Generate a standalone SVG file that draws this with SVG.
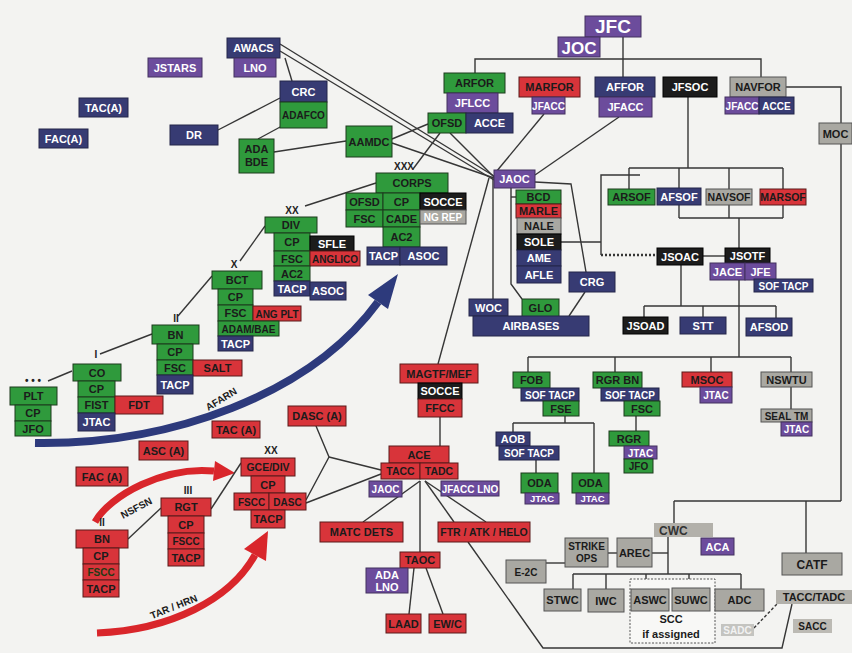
<svg xmlns="http://www.w3.org/2000/svg" width="852" height="653" viewBox="0 0 852 653">
<defs>
<style>
text{font-family:"Liberation Sans",Arial,sans-serif;font-weight:bold;font-size:11px;text-anchor:middle}
.g{fill:#2f9a3c;stroke:#1c3a1c;stroke-width:1}
.r{fill:#d8343a;stroke:#5a1a1a;stroke-width:1}
.n{fill:#373b73;stroke:#24264a;stroke-width:1}
.p{fill:#6c4c9c;stroke:#43305f;stroke-width:1}
.k{fill:#1c1c1c;stroke:#000;stroke-width:1}
.y{fill:#a9a8a2;stroke:#555;stroke-width:1}
.w{fill:#fff}
.d{fill:#1b1b1b}
.s{font-size:10px}
.lbl{font-size:10px;fill:#222}
.c line,.c polyline,.c path{stroke:#363636;stroke-width:1.4;fill:none}
</style>
</defs>
<rect x="0" y="0" width="852" height="653" fill="#f3f3f1"/>

<g id="arrows">
<path d="M35,443 C170,445 310,395 378,302" stroke="#2d3a7c" stroke-width="8" fill="none"/>
<polygon points="388,309 368,295 398,274" fill="#2d3a7c"/>
<path d="M95,522 C110,495 165,466 214,471" stroke="#d9262b" stroke-width="7" fill="none"/>
<polygon points="213,481 215,461 235,473" fill="#d9262b"/>
<path d="M97,633 C170,630 230,600 255,555" stroke="#d9262b" stroke-width="7" fill="none"/>
<polygon points="266,561 244,549 268,531" fill="#d9262b"/>
<text x="223" y="402" transform="rotate(-31 223 402)" class="d" style="font-size:10px">AFARN</text>
<text x="138" y="511" transform="rotate(-28 138 511)" class="d" style="font-size:10px">NSFSN</text>
<text x="175" y="610" transform="rotate(-22 175 610)" class="d" style="font-size:10px">TAR / HRN</text>
</g>

<g id="connectors" class="c">
<line x1="285" y1="58" x2="292" y2="81"/>
<line x1="280" y1="98" x2="218" y2="130"/>
<line x1="282" y1="126" x2="258" y2="139"/>
<line x1="274" y1="152" x2="346" y2="141"/>
<line x1="392" y1="139" x2="428" y2="124"/>
<line x1="392" y1="143" x2="494" y2="178"/>
<line x1="280" y1="44" x2="494" y2="176"/>
<line x1="280" y1="51" x2="494" y2="180"/>
<line x1="413" y1="169" x2="440" y2="133"/>
<line x1="450" y1="133" x2="494" y2="177"/>
<line x1="305" y1="206" x2="376" y2="183"/>
<line x1="240" y1="261" x2="265" y2="226"/>
<line x1="178" y1="316" x2="212" y2="276"/>
<line x1="100" y1="354" x2="152" y2="334"/>
<line x1="72" y1="371" x2="48" y2="381"/>
<line x1="128" y1="539" x2="161" y2="508"/>
<line x1="211" y1="509" x2="241" y2="463"/>
<polyline points="316,426 329,457 306,500"/>
<line x1="329" y1="457" x2="381" y2="470"/>
<line x1="306" y1="503" x2="381" y2="474"/>
<line x1="438" y1="364" x2="489" y2="178"/>
<line x1="440" y1="417" x2="440" y2="446"/>
<line x1="420" y1="481" x2="363" y2="522"/>
<line x1="425" y1="481" x2="454" y2="522"/>
<line x1="425" y1="481" x2="486" y2="522"/>
<line x1="420" y1="481" x2="420" y2="552"/>
<line x1="414" y1="568" x2="409" y2="614"/>
<line x1="426" y1="568" x2="443" y2="614"/>
<polyline points="468,542 543,648 782,648 792,604"/>
<line x1="754" y1="628" x2="777" y2="604" style="stroke-dasharray:3 2"/>
<line x1="544" y1="114" x2="496" y2="172"/>
<line x1="619" y1="117" x2="535" y2="175"/>
<line x1="623" y1="37" x2="623" y2="77"/>
<polyline points="475,73 475,59 761,59 761,77"/>
<line x1="688" y1="97" x2="688" y2="168"/>
<line x1="629" y1="168" x2="783" y2="168"/>
<line x1="629" y1="168" x2="629" y2="189"/>
<line x1="679" y1="168" x2="679" y2="188"/>
<line x1="729" y1="168" x2="729" y2="189"/>
<line x1="783" y1="168" x2="783" y2="189"/>
<line x1="561" y1="242" x2="601" y2="242"/>
<polyline points="640,175 601,175 601,255"/>
<line x1="601" y1="255" x2="657" y2="255" style="stroke-dasharray:2 2;stroke-width:2.5"/>
<line x1="703" y1="256" x2="725" y2="256"/>
<line x1="679" y1="205" x2="679" y2="218"/>
<line x1="729" y1="205" x2="729" y2="218"/>
<line x1="783" y1="205" x2="783" y2="218"/>
<line x1="679" y1="218" x2="783" y2="218"/>
<line x1="739" y1="218" x2="739" y2="248"/>
<line x1="681" y1="265" x2="681" y2="306"/>
<line x1="644" y1="306" x2="776" y2="306"/>
<line x1="644" y1="306" x2="644" y2="317"/>
<line x1="703" y1="306" x2="703" y2="317"/>
<line x1="776" y1="306" x2="776" y2="318"/>
<line x1="739" y1="280" x2="739" y2="357"/>
<line x1="528" y1="357" x2="791" y2="357"/>
<line x1="528" y1="357" x2="528" y2="372"/>
<line x1="615" y1="357" x2="615" y2="372"/>
<line x1="711" y1="357" x2="711" y2="372"/>
<line x1="791" y1="357" x2="791" y2="372"/>
<line x1="791" y1="387" x2="791" y2="409"/>
<line x1="565" y1="416" x2="565" y2="423"/>
<line x1="513" y1="423" x2="594" y2="423"/>
<line x1="513" y1="423" x2="513" y2="432"/>
<line x1="594" y1="423" x2="594" y2="473"/>
<line x1="536" y1="460" x2="536" y2="473"/>
<line x1="636" y1="416" x2="636" y2="431"/>
<polyline points="786,87 841,87 841,123"/>
<line x1="841" y1="144" x2="841" y2="501"/>
<line x1="674" y1="501" x2="841" y2="501"/>
<line x1="674" y1="501" x2="674" y2="523"/>
<line x1="806" y1="501" x2="806" y2="553"/>
<line x1="668" y1="537" x2="668" y2="574"/>
<line x1="573" y1="574" x2="741" y2="574"/>
<line x1="573" y1="574" x2="573" y2="589"/>
<line x1="606" y1="574" x2="606" y2="589"/>
<line x1="646" y1="574" x2="646" y2="589"/>
<line x1="689" y1="574" x2="689" y2="588"/>
<line x1="741" y1="574" x2="741" y2="589"/>
<line x1="652" y1="553" x2="668" y2="553"/>
<line x1="546" y1="563" x2="565" y2="563"/>
<line x1="608" y1="553" x2="617" y2="553"/>
<polyline points="511,188 511,284 522,299"/>
<line x1="511" y1="197" x2="516" y2="197"/>
<line x1="493" y1="178" x2="493" y2="299"/>
<polyline points="535,182 571,184 586,272"/>
<line x1="585" y1="292" x2="569" y2="316"/>
</g>

<g id="echelon-labels">
<text class="lbl" x="404" y="170">XXX</text>
<text class="lbl" x="292" y="214">XX</text>
<text class="lbl" x="234" y="268">X</text>
<text class="lbl" x="176" y="322">II</text>
<text class="lbl" x="96" y="358">I</text>
<text class="lbl" x="33" y="384">• • •</text>
<text class="lbl" x="188" y="494">III</text>
<text class="lbl" x="102" y="526">II</text>
<text class="lbl" x="271" y="454">XX</text>
</g>

<g id="jstars"><rect class="p" x="148" y="58" width="54" height="19"/><text class="w" x="175" y="71.5">JSTARS</text></g>
<g id="taca-air"><rect class="n" x="79" y="98" width="49" height="19"/><text class="w" x="103.5" y="111.5">TAC(A)</text></g>
<g id="faca-air"><rect class="n" x="39" y="129" width="49" height="19"/><text class="w" x="63.5" y="142.5">FAC(A)</text></g>
<g id="dr"><rect class="n" x="170" y="125" width="48" height="20"/><text class="w" x="194" y="139">DR</text></g>
<g id="awacs"><rect class="n" x="227" y="38" width="53" height="20"/><text class="w" x="253.5" y="52">AWACS</text>
<rect class="p" x="234" y="58" width="42" height="19"/><text class="w" x="255" y="71.5">LNO</text></g>
<g id="crc"><rect class="n" x="280" y="81" width="47" height="21"/><text class="w" x="303.5" y="95.5">CRC</text>
<rect class="g" x="280" y="102" width="47" height="26"/><text class="d s" x="303.5" y="119">ADAFCO</text></g>
<g id="adabde"><rect class="g" x="239" y="139" width="35" height="34"/><text class="d" x="256.5" y="153">ADA</text><text class="d" x="256.5" y="166">BDE</text></g>
<g id="aamdc"><rect class="g" x="346" y="126" width="46" height="31"/><text class="d" x="369" y="145.5">AAMDC</text></g>

<g id="corps">
<rect class="g" x="376" y="173" width="72" height="20"/><text class="d" x="412" y="187">CORPS</text>
<rect class="g" x="346" y="193" width="37" height="17"/><text class="d" x="364.5" y="205.5">OFSD</text>
<rect class="g" x="383" y="193" width="37" height="17"/><text class="d" x="401.5" y="205.5">CP</text>
<rect class="k" x="420" y="193" width="46" height="17"/><text class="w" x="443" y="205.5">SOCCE</text>
<rect class="g" x="346" y="210" width="37" height="17"/><text class="d" x="364.5" y="222.5">FSC</text>
<rect class="g" x="383" y="210" width="37" height="17"/><text class="d" x="401.5" y="222.5">CADE</text>
<rect class="y" x="420" y="210" width="46" height="14"/><text class="w s" x="443" y="221">NG REP</text>
<rect class="g" x="383" y="227" width="37" height="20"/><text class="d" x="401.5" y="241">AC2</text>
<rect class="n" x="367" y="247" width="33" height="18"/><text class="w" x="383.5" y="260">TACP</text>
<rect class="n" x="400" y="247" width="47" height="18"/><text class="w" x="423.5" y="260">ASOC</text>
</g>

<g id="div">
<rect class="g" x="265" y="217" width="52" height="16"/><text class="d" x="291" y="229">DIV</text>
<rect class="g" x="274" y="233" width="36" height="18"/><text class="d" x="292" y="246">CP</text>
<rect class="k" x="310" y="236" width="44" height="15"/><text class="w" x="332" y="247.5">SFLE</text>
<rect class="g" x="274" y="251" width="36" height="15"/><text class="d" x="292" y="262.5">FSC</text>
<rect class="r" x="310" y="251" width="50" height="15"/><text class="d s" x="335" y="262.5">ANGLICO</text>
<rect class="g" x="274" y="266" width="36" height="15"/><text class="d" x="292" y="277.5">AC2</text>
<rect class="n" x="274" y="281" width="36" height="15"/><text class="w" x="292" y="292.5">TACP</text>
<rect class="n" x="310" y="282" width="36" height="18"/><text class="w" x="328" y="295">ASOC</text>
</g>

<g id="bct">
<rect class="g" x="212" y="271" width="50" height="18"/><text class="d" x="237" y="284">BCT</text>
<rect class="g" x="218" y="289" width="35" height="16"/><text class="d" x="235.5" y="301">CP</text>
<rect class="g" x="218" y="305" width="35" height="16"/><text class="d" x="235.5" y="317">FSC</text>
<rect class="r" x="253" y="306" width="48" height="15"/><text class="d s" x="277" y="317.5">ANG PLT</text>
<rect class="g" x="218" y="321" width="61" height="15"/><text class="d s" x="248.5" y="332.5">ADAM/BAE</text>
<rect class="n" x="218" y="336" width="35" height="15"/><text class="w" x="235.5" y="347.5">TACP</text>
</g>

<g id="bn-army">
<rect class="g" x="152" y="325" width="47" height="19"/><text class="d" x="175.5" y="338.5">BN</text>
<rect class="g" x="157" y="344" width="36" height="16"/><text class="d" x="175" y="356">CP</text>
<rect class="g" x="157" y="360" width="36" height="15"/><text class="d" x="175" y="371.5">FSC</text>
<rect class="r" x="193" y="360" width="49" height="16"/><text class="d" x="217.5" y="372">SALT</text>
<rect class="n" x="157" y="375" width="36" height="19"/><text class="w" x="175" y="388.5">TACP</text>
</g>

<g id="co">
<rect class="g" x="73" y="364" width="48" height="17"/><text class="d" x="97" y="376.5">CO</text>
<rect class="g" x="78" y="381" width="37" height="16"/><text class="d" x="96.5" y="393">CP</text>
<rect class="g" x="78" y="397" width="37" height="16"/><text class="d" x="96.5" y="409">FIST</text>
<rect class="r" x="115" y="396" width="48" height="18"/><text class="d" x="139" y="409">FDT</text>
<rect class="n" x="78" y="413" width="37" height="18"/><text class="w" x="96.5" y="426">JTAC</text>
</g>

<g id="plt">
<rect class="g" x="10" y="387" width="47" height="18"/><text class="d" x="33.5" y="400">PLT</text>
<rect class="g" x="15" y="405" width="36" height="16"/><text class="d" x="33" y="417">CP</text>
<rect class="g" x="15" y="421" width="36" height="15"/><text class="d" x="33" y="432.5">JFO</text>
</g>

<g id="arfor">
<rect class="g" x="444" y="73" width="61" height="20"/><text class="d" x="474.5" y="87">ARFOR</text>
<rect class="p" x="447" y="93" width="51" height="20"/><text class="w" x="472.5" y="107">JFLCC</text>
<rect class="g" x="428" y="113" width="38" height="20"/><text class="d" x="447" y="127">OFSD</text>
<rect class="n" x="466" y="113" width="47" height="20"/><text class="w" x="489.5" y="127">ACCE</text>
</g>
<g id="marfor">
<rect class="r" x="519" y="77" width="61" height="20"/><text class="d" x="549.5" y="91">MARFOR</text>
<rect class="p" x="532" y="97" width="33" height="17"/><text class="w s" x="548.5" y="109.5">JFACC</text>
</g>
<g id="jfc"><rect class="p" x="585" y="16" width="56" height="21"/><text class="w" x="613" y="33" style="font-size:19px">JFC</text></g>
<g id="joc"><rect class="p" x="558" y="37" width="42" height="20"/><text class="w" x="579" y="53.5" style="font-size:17px">JOC</text></g>
<g id="affor">
<rect class="n" x="595" y="77" width="60" height="20"/><text class="w" x="625" y="91">AFFOR</text>
<rect class="p" x="599" y="97" width="53" height="20"/><text class="w" x="625.5" y="111">JFACC</text>
</g>
<g id="jfsoc"><rect class="k" x="663" y="77" width="54" height="20"/><text class="w" x="690" y="91">JFSOC</text></g>
<g id="navfor">
<rect class="y" x="730" y="77" width="56" height="20"/><text class="d" x="758" y="91">NAVFOR</text>
<rect class="p" x="725" y="97" width="34" height="17"/><text class="w s" x="742" y="109.5">JFACC</text>
<rect class="n" x="759" y="97" width="35" height="17"/><text class="w s" x="776.5" y="109.5">ACCE</text>
</g>
<g id="moc"><rect class="y" x="819" y="123" width="33" height="21"/><text class="d" x="835.5" y="137.5">MOC</text></g>

<g id="arsof"><rect class="g" x="608" y="189" width="47" height="16"/><text class="d" x="631.5" y="201">ARSOF</text></g>
<g id="afsof"><rect class="n" x="657" y="188" width="44" height="17"/><text class="w" x="679" y="200.5">AFSOF</text></g>
<g id="navsof"><rect class="y" x="706" y="189" width="46" height="16"/><text class="d" x="729" y="201" style="font-size:10.5px">NAVSOF</text></g>
<g id="marsof"><rect class="r" x="760" y="189" width="46" height="16"/><text class="d" x="783" y="201" style="font-size:10.5px">MARSOF</text></g>

<g id="jaoc">
<rect class="p" x="494" y="170" width="41" height="18"/><text class="w" x="514.5" y="183">JAOC</text>
</g>
<g id="jaoc-stack">
<rect class="g" x="516" y="190" width="45" height="14"/><text class="d" x="538.5" y="201">BCD</text>
<rect class="r" x="516" y="204" width="45" height="14"/><text class="d" x="538.5" y="215">MARLE</text>
<rect class="y" x="517" y="218" width="44" height="16"/><text class="d" x="539" y="230">NALE</text>
<rect class="k" x="517" y="234" width="44" height="16"/><text class="w" x="539" y="246">SOLE</text>
<rect class="n" x="517" y="250" width="44" height="16"/><text class="w" x="539" y="262">AME</text>
<rect class="n" x="517" y="266" width="44" height="17"/><text class="w" x="539" y="278.5">AFLE</text>
</g>
<g id="woc"><rect class="n" x="469" y="299" width="39" height="17"/><text class="w" x="488.5" y="311.5">WOC</text></g>
<g id="glo"><rect class="g" x="522" y="299" width="37" height="18"/><text class="d" x="540.5" y="312">GLO</text></g>
<g id="airbases"><rect class="n" x="473" y="316" width="116" height="20"/><text class="w" x="531" y="330">AIRBASES</text></g>
<g id="crg"><rect class="n" x="569" y="272" width="46" height="20"/><text class="w" x="592" y="286">CRG</text></g>

<g id="jsoac"><rect class="k" x="657" y="248" width="46" height="17"/><text class="w" x="680" y="260.5">JSOAC</text></g>
<g id="jsotf">
<rect class="k" x="725" y="248" width="45" height="15"/><text class="w" x="747.5" y="259.5">JSOTF</text>
<rect class="p" x="710" y="263" width="35" height="17"/><text class="w" x="727.5" y="275.5">JACE</text>
<rect class="p" x="745" y="263" width="31" height="17"/><text class="w" x="760.5" y="275.5">JFE</text>
<rect class="n" x="754" y="279" width="59" height="13"/><text class="w s" x="783.5" y="289.5">SOF TACP</text>
</g>
<g id="jsoad"><rect class="k" x="623" y="317" width="45" height="17"/><text class="w" x="645.5" y="329.5">JSOAD</text></g>
<g id="stt"><rect class="n" x="680" y="317" width="46" height="17"/><text class="w" x="703" y="329.5">STT</text></g>
<g id="afsod"><rect class="n" x="746" y="318" width="46" height="18"/><text class="w" x="769" y="331">AFSOD</text></g>

<g id="fob">
<rect class="g" x="513" y="372" width="37" height="16"/><text class="d" x="531.5" y="384">FOB</text>
<rect class="n" x="521" y="388" width="58" height="13"/><text class="w s" x="550" y="398.5">SOF TACP</text>
<rect class="g" x="543" y="401" width="36" height="15"/><text class="d" x="561" y="412.5">FSE</text>
</g>
<g id="rgrbn">
<rect class="g" x="593" y="372" width="49" height="16"/><text class="d" x="617.5" y="384">RGR BN</text>
<rect class="n" x="601" y="388" width="58" height="13"/><text class="w s" x="630" y="398.5">SOF TACP</text>
<rect class="g" x="624" y="401" width="36" height="15"/><text class="d" x="642" y="412.5">FSC</text>
</g>
<g id="msoc">
<rect class="r" x="682" y="372" width="50" height="15"/><text class="d" x="707" y="383.5">MSOC</text>
<rect class="p" x="700" y="387" width="32" height="16"/><text class="w s" x="716" y="399">JTAC</text>
</g>
<g id="nswtu"><rect class="y" x="761" y="372" width="51" height="15"/><text class="d" x="786.5" y="383.5">NSWTU</text></g>
<g id="sealtm">
<rect class="y" x="761" y="409" width="51" height="13"/><text class="d s" x="786.5" y="419.5">SEAL TM</text>
<rect class="p" x="781" y="422" width="31" height="14"/><text class="w s" x="796.5" y="433">JTAC</text>
</g>
<g id="aob">
<rect class="n" x="496" y="432" width="34" height="14"/><text class="w" x="513" y="443">AOB</text>
<rect class="n" x="499" y="446" width="60" height="14"/><text class="w s" x="529" y="457">SOF TACP</text>
</g>
<g id="oda1">
<rect class="g" x="521" y="473" width="37" height="20"/><text class="d" x="539.5" y="487">ODA</text>
<rect class="p" x="525" y="493" width="34" height="11"/><text class="w" x="542" y="502" style="font-size:9.5px">JTAC</text>
</g>
<g id="oda2">
<rect class="g" x="572" y="473" width="37" height="20"/><text class="d" x="590.5" y="487">ODA</text>
<rect class="p" x="576" y="493" width="33" height="11"/><text class="w" x="592.5" y="502" style="font-size:9.5px">JTAC</text>
</g>
<g id="rgr">
<rect class="g" x="609" y="431" width="40" height="15"/><text class="d" x="629" y="442.5">RGR</text>
<rect class="p" x="624" y="446" width="33" height="13"/><text class="w s" x="640.5" y="456.5">JTAC</text>
<rect class="g" x="624" y="459" width="29" height="14"/><text class="d s" x="638.5" y="470">JFO</text>
</g>

<g id="magtf">
<rect class="r" x="400" y="364" width="78" height="19"/><text class="d" x="439" y="377.5">MAGTF/MEF</text>
<rect class="k" x="418" y="383" width="44" height="16"/><text class="w" x="440" y="395">SOCCE</text>
<rect class="r" x="418" y="399" width="44" height="18"/><text class="d" x="440" y="412">FFCC</text>
</g>
<g id="dasca"><rect class="r" x="288" y="406" width="58" height="20"/><text class="d" x="317" y="420">DASC (A)</text></g>
<g id="taca-mar"><rect class="r" x="212" y="421" width="48" height="17"/><text class="d" x="236" y="433.5">TAC (A)</text></g>
<g id="asca"><rect class="r" x="139" y="441" width="49" height="19"/><text class="d" x="163.5" y="454.5">ASC (A)</text></g>
<g id="faca-mar"><rect class="r" x="76" y="467" width="52" height="19"/><text class="d" x="102" y="480.5">FAC (A)</text></g>

<g id="bn-mar">
<rect class="r" x="76" y="530" width="52" height="18"/><text class="d" x="102" y="543">BN</text>
<rect class="r" x="83" y="548" width="36" height="16"/><text class="d" x="101" y="560">CP</text>
<rect class="r" x="83" y="564" width="36" height="16"/><text class="s" x="101" y="576" fill="#1e3a14">FSCC</text>
<rect class="r" x="83" y="580" width="36" height="17"/><text class="d" x="101" y="592.5">TACP</text>
</g>
<g id="rgt">
<rect class="r" x="161" y="498" width="50" height="18"/><text class="d" x="186" y="511">RGT</text>
<rect class="r" x="168" y="516" width="36" height="17"/><text class="d" x="186" y="528.5">CP</text>
<rect class="r" x="168" y="533" width="36" height="16"/><text class="d s" x="186" y="545">FSCC</text>
<rect class="r" x="168" y="549" width="36" height="17"/><text class="d" x="186" y="561.5">TACP</text>
</g>
<g id="gcediv">
<rect class="r" x="241" y="458" width="54" height="18"/><text class="d" x="268" y="471" style="font-size:10.5px">GCE/DIV</text>
<rect class="r" x="251" y="476" width="34" height="17"/><text class="d" x="268" y="488.5">CP</text>
<rect class="r" x="234" y="493" width="35" height="17"/><text class="d s" x="251.5" y="505.5">FSCC</text>
<rect class="r" x="269" y="493" width="37" height="17"/><text class="d s" x="287.5" y="505.5">DASC</text>
<rect class="r" x="251" y="510" width="34" height="18"/><text class="d" x="268" y="523">TACP</text>
</g>
<g id="ace">
<rect class="r" x="389" y="446" width="60" height="17"/><text class="d" x="419" y="458.5">ACE</text>
<rect class="r" x="381" y="463" width="39" height="16"/><text class="d" x="400.5" y="475" style="font-size:10.5px">TACC</text>
<rect class="r" x="420" y="463" width="38" height="16"/><text class="d" x="439" y="475" style="font-size:10.5px">TADC</text>
<rect class="p" x="369" y="481" width="33" height="16"/><text class="w s" x="385.5" y="493">JAOC</text>
<rect class="p" x="441" y="481" width="58" height="15"/><text class="w s" x="470" y="492.5">JFACC LNO</text>
</g>
<g id="matc"><rect class="r" x="320" y="522" width="83" height="20"/><text class="d" x="361.5" y="536">MATC DETS</text></g>
<g id="ftr"><rect class="r" x="438" y="522" width="92" height="20"/><text class="d" x="484" y="536" style="font-size:10.5px">FTR / ATK / HELO</text></g>
<g id="taoc"><rect class="r" x="400" y="552" width="40" height="16"/><text class="d" x="420" y="564">TAOC</text></g>
<g id="adalno"><rect class="p" x="366" y="568" width="42" height="25"/><text class="w" x="387" y="579">ADA</text><text class="w" x="387" y="591">LNO</text></g>
<g id="laad"><rect class="r" x="386" y="614" width="35" height="19"/><text class="d" x="403.5" y="627.5">LAAD</text></g>
<g id="ewc"><rect class="r" x="429" y="614" width="37" height="19"/><text class="d" x="447.5" y="627.5">EW/C</text></g>

<g id="cwc"><rect x="654" y="523" width="59" height="14" fill="#b2b0aa"/><text class="d" x="659" y="534.5" style="text-anchor:start;font-size:12px;fill:#333">CWC</text></g>
<g id="aca"><rect class="p" x="701" y="538" width="33" height="17"/><text class="w" x="717.5" y="550.5">ACA</text></g>
<g id="catf"><rect class="y" x="782" y="553" width="60" height="22"/><text class="d" x="812" y="568.5" style="font-size:12px">CATF</text></g>
<g id="strike"><rect class="y" x="565" y="538" width="43" height="29"/><text class="d s" x="586.5" y="550">STRIKE</text><text class="d s" x="586.5" y="562">OPS</text></g>
<g id="arec"><rect class="y" x="617" y="538" width="35" height="29"/><text class="d" x="634.5" y="556.5">AREC</text></g>
<g id="e2c"><rect class="y" x="506" y="560" width="40" height="23"/><text class="d s" x="526" y="575.5">E-2C</text></g>
<g id="scc"><rect x="630" y="579" width="85" height="64" fill="#f8f8f6" stroke="#555" stroke-width="1" stroke-dasharray="2 1.5"/><text class="d" x="671" y="623">SCC</text><text class="d" x="671" y="638">if assigned</text></g>
<g id="stwc"><rect class="y" x="544" y="589" width="37" height="22"/><text class="d" x="562.5" y="604">STWC</text></g>
<g id="iwc"><rect class="y" x="588" y="589" width="36" height="23"/><text class="d" x="606" y="604.5">IWC</text></g>
<g id="aswc"><rect class="y" x="631" y="589" width="38" height="22"/><text class="d" x="650" y="604">ASWC</text></g>
<g id="suwc"><rect class="y" x="672" y="588" width="38" height="23"/><text class="d" x="691" y="603.5">SUWC</text></g>
<g id="adc"><rect class="y" x="715" y="589" width="49" height="22"/><text class="d" x="739.5" y="604">ADC</text></g>
<g id="tacctadc"><rect x="776" y="590" width="76" height="14" fill="#b2b0aa"/><text class="d" x="814" y="601">TACC/TADC</text></g>
<g id="sadc"><rect x="721" y="624" width="33" height="12" fill="#c4c4c0"/><text class="s" x="737.5" y="634" fill="#f2f2f2">SADC</text></g>
<g id="sacc"><rect x="793" y="619" width="39" height="14" fill="#bcbab4"/><text class="d s" x="812.5" y="630">SACC</text></g>
</svg>
